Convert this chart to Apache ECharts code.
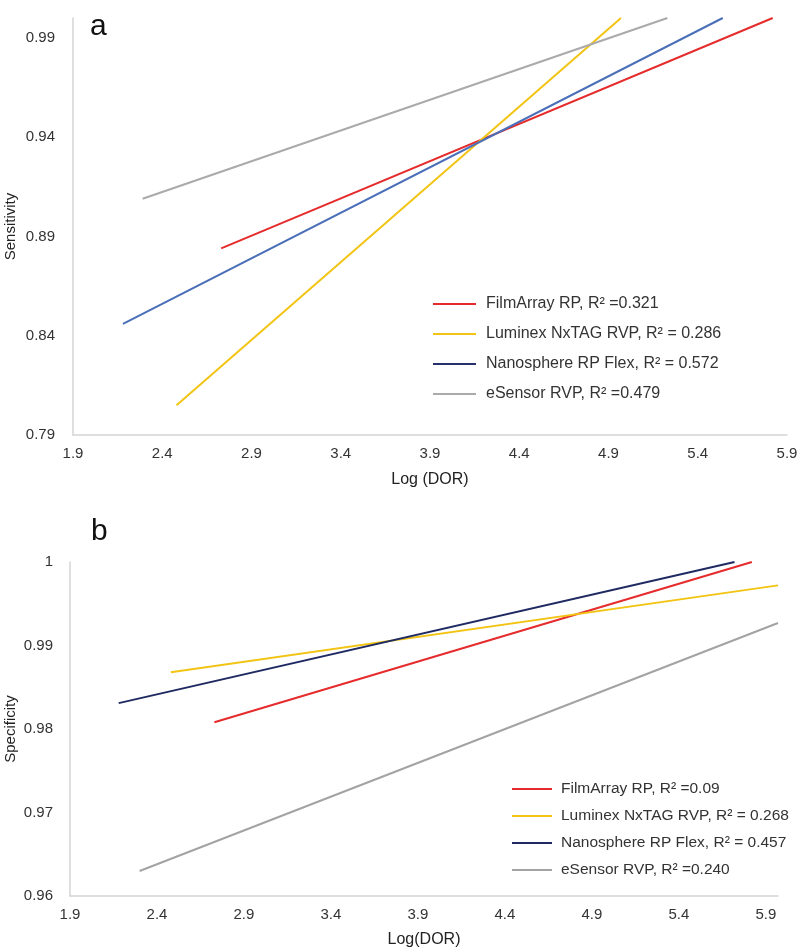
<!DOCTYPE html>
<html>
<head>
<meta charset="utf-8">
<script src="https://cdn.jsdelivr.net/npm/echarts@6/dist/echarts.min.js"></script>
<style>html,body{margin:0;padding:0;background:#fff}#c{width:800px;height:950px}</style>
</head>
<body>
<div id="c"></div>
<script>
// ---- data (regression line end points) ----
const sensNames = ['FilmArray RP, R² =0.321', 'Luminex NxTAG RVP, R² = 0.286', 'Nanosphere RP Flex, R² = 0.572', 'eSensor RVP, R² =0.479'];
const sensStartX = [2.73, 2.48, 2.18, 2.29];
const sensStartY = [0.884, 0.805, 0.846, 0.909];
const sensEndX = [5.82, 4.97, 5.54, 5.23];
const sensEndY = [1.0, 1.0, 1.0, 1.0];

const specNames = ['FilmArray RP, R² =0.09', 'Luminex NxTAG RVP, R² = 0.268', 'Nanosphere RP Flex, R² = 0.457', 'eSensor RVP, R² =0.240'];
const specStartX = [2.73, 2.48, 2.18, 2.30];
const specStartY = [0.9808, 0.9868, 0.9831, 0.9630];
const specEndX = [5.82, 5.97, 5.72, 5.97];
const specEndY = [1.0, 0.9972, 1.0, 0.9927];

const xTicksTop = [1.9, 2.4, 2.9, 3.4, 3.9, 4.4, 4.9, 5.4, 5.9];
const yTicksTop = [0.79, 0.84, 0.89, 0.94, 0.99];
const yTicksBottom = [0.96, 0.97, 0.98, 0.99, 1];

// ---- styles ----
const sensColors = ['#e52b2b', '#f2c414', '#4a6fb8', '#aaaaaa'];
const sensLegendColors = ['#e52b2b', '#f2c414', '#26306a', '#aaaaaa'];
const specColors = ['#e52b2b', '#f2c414', '#1f2a62', '#a3a3a3'];
const FONT = '"Liberation Sans", Arial, Helvetica, sans-serif';

const chart = echarts.init(document.getElementById('c'), null, {renderer: 'canvas'});

function xAxis(gridIndex, max, nameGap, name) {
  return {
    type: 'value', gridIndex, min: 1.9, max, interval: 0.5,
    name, nameLocation: 'middle', nameGap, nameMoveOverlap: false,
    nameTextStyle: {fontFamily: FONT, fontSize: 16, color: '#222'},
    axisLine: {show: true, lineStyle: {color: '#d4d4d4', width: 1.5}},
    axisTick: {show: false},
    splitLine: {show: false},
    axisLabel: {
      fontFamily: FONT, fontSize: 15, color: '#333', margin: 11,
      showMaxLabel: max === xTicksTop[xTicksTop.length - 1],
      formatter: v => { const t = xTicksTop.find(k => Math.abs(k - v) < 1e-6); return t === undefined ? '' : t.toFixed(1); }
    }
  };
}

const option = {
  backgroundColor: '#fff',
  animation: false,
  grid: [
    {left: 73, top: 18, width: 714, height: 417, containLabel: false, outerBoundsMode: 'none'},
    {left: 70, top: 562, width: 708, height: 334, containLabel: false, outerBoundsMode: 'none'}
  ],
  xAxis: [
    xAxis(0, 5.9, 37, 'Log (DOR)'),
    xAxis(1, 5.97, 36, 'Log(DOR)')
  ],
  yAxis: [
    {
      type: 'value', gridIndex: 0, min: 0.79, max: 1.0, interval: 0.05,
      name: 'Sensitivity', nameLocation: 'middle', nameGap: 55, nameMoveOverlap: false,
      nameTextStyle: {fontFamily: FONT, fontSize: 15, color: '#222'},
      axisLine: {show: true, lineStyle: {color: '#d4d4d4', width: 1.5}},
      axisTick: {show: false}, splitLine: {show: false},
      axisLabel: {
        fontFamily: FONT, fontSize: 15, color: '#333', margin: 18,
        showMaxLabel: false,
        formatter: v => { const t = yTicksTop.find(k => Math.abs(k - v) < 1e-6); return t === undefined ? '' : t.toFixed(2); }
      }
    },
    {
      type: 'value', gridIndex: 1, min: 0.96, max: 1.0, interval: 0.01,
      name: 'Specificity', nameLocation: 'middle', nameGap: 52, nameMoveOverlap: false,
      nameTextStyle: {fontFamily: FONT, fontSize: 15, color: '#222'},
      axisLine: {show: true, lineStyle: {color: '#d4d4d4', width: 1.5}},
      axisTick: {show: false}, splitLine: {show: false},
      axisLabel: {
        fontFamily: FONT, fontSize: 15, color: '#333', margin: 17,
        formatter: v => { const t = yTicksBottom.find(k => Math.abs(k - v) < 1e-6); return t === undefined ? '' : String(t); }
      }
    }
  ],
  legend: [
    {
      orient: 'vertical', left: 428, top: 290, icon: 'rect', itemWidth: 43, itemHeight: 2, itemGap: 12,
      textStyle: {fontFamily: FONT, fontSize: 16, color: '#333', lineHeight: 18, padding: [0, 0, 0, 5]},
      data: sensNames.map((n, i) => ({name: n, itemStyle: {color: sensLegendColors[i]}}))
    },
    {
      orient: 'vertical', left: 507, top: 775, icon: 'rect', itemWidth: 40, itemHeight: 2, itemGap: 9,
      textStyle: {fontFamily: FONT, fontSize: 15.5, color: '#333', lineHeight: 18, padding: [0, 0, 0, 4]},
      data: specNames.map((n, i) => ({name: n, itemStyle: {color: specColors[i]}}))
    }
  ],
  graphic: [
    {type: 'text', left: 90, top: 12, style: {text: 'a', font: '30px ' + FONT, fill: '#111'}},
    {type: 'text', left: 91, top: 517, style: {text: 'b', font: '30px ' + FONT, fill: '#111'}}
  ],
  series: [
    ...sensNames.map((n, i) => ({
      name: n, type: 'line', xAxisIndex: 0, yAxisIndex: 0, symbol: 'none', silent: true,
      lineStyle: {color: sensColors[i], width: 2}, itemStyle: {color: sensColors[i]},
      data: [[sensStartX[i], sensStartY[i]], [sensEndX[i], sensEndY[i]]]
    })),
    ...specNames.map((n, i) => ({
      name: n, type: 'line', xAxisIndex: 1, yAxisIndex: 1, symbol: 'none', silent: true,
      lineStyle: {color: specColors[i], width: 2}, itemStyle: {color: specColors[i]},
      data: [[specStartX[i], specStartY[i]], [specEndX[i], specEndY[i]]]
    }))
  ]
};
chart.setOption(option);
</script>
</body>
</html>
